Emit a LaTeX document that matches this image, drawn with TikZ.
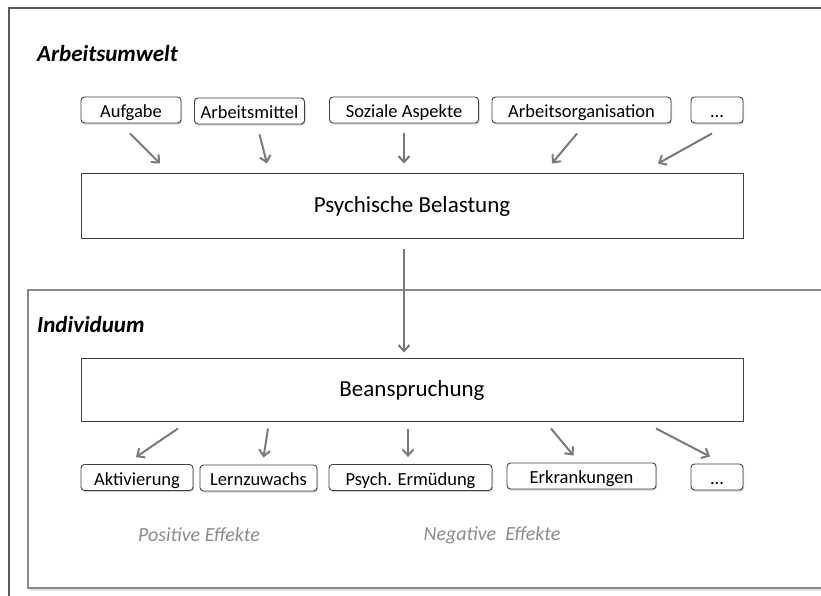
\documentclass[tikz,border=0pt]{standalone}
\usepackage{fontspec}
\setmainfont{Carlito}
\usetikzlibrary{arrows.meta,shadows}
\definecolor{arrowgray}{HTML}{7A7A7A}
\definecolor{framegray}{HTML}{8A8A8A}
\definecolor{textgray}{HTML}{8C8C8C}
\definecolor{boxline}{HTML}{404040}
\tikzset{
  smallbox/.style={draw=boxline, line width=0.9pt, rounded corners=3.5pt, fill=white,
    minimum height=26pt, inner sep=0pt, text height=16pt, text depth=1pt,
    font=\fontsize{18.5}{21}\selectfont,
    drop shadow={shadow xshift=1pt, shadow yshift=-1.5pt, opacity=0.35}},
  bigbox/.style={draw=boxline, line width=1pt, fill=white, minimum width=662pt, inner sep=0pt,
    text height=17pt, text depth=3pt, font=\fontsize{23}{27}\selectfont},
  arr/.style={draw=arrowgray, line width=2pt, -{Straight Barb[length=6pt,width=11pt]}},
  heading/.style={font=\fontsize{23}{27}\selectfont\bfseries\itshape, anchor=west, inner sep=0pt},
  effect/.style={font=\fontsize{20}{24}\selectfont\itshape, text=textgray, inner sep=0pt}
}
\begin{document}
\begin{tikzpicture}[x=1pt,y=-1pt]
\useasboundingbox (0,0) rectangle (821,595);
\fill[white] (0,0) rectangle (821,595);
\begin{scope}
  \clip (0,0) rectangle (821,595);
  \draw[black!65, line width=1.3pt] (9,620) -- (9,8) -- (840,8);
  \fill[black!12] (30,292) rectangle (840,591);
  \draw[framegray, line width=1.2pt, fill=white] (28,290) rectangle (840,588);
\end{scope}

\node[heading] (arbeitsumwelt) at (37,54) {Arbeitsumwelt};
\node[heading] (individuum) at (37,325) {Individuum};

% top small boxes
\node[smallbox, minimum width=100pt] (aufgabe) at (131,110) {Aufgabe};
\node[smallbox, minimum width=110pt] (mittel) at (249.5,111) {Arbeitsmittel};
\node[smallbox, minimum width=149pt] (sozial) at (404,110) {Soziale Aspekte};
\node[smallbox, minimum width=179pt] (orga) at (581.5,110) {Arbeitsorganisation};
\node[smallbox, minimum width=52pt] (dots1) at (717,110) {...};

% big boxes
\node[bigbox, minimum height=65pt] (belastung) at (412,205.5) {Psychische Belastung};
\node[bigbox, minimum height=63pt] (beanspruchung) at (412,389.5) {Beanspruchung};

% bottom small boxes
\node[smallbox, minimum width=112pt] (aktiv) at (137,477.5) {Aktivierung};
\node[smallbox, minimum width=117pt] (lern) at (258.5,478) {Lernzuwachs};
\node[smallbox, minimum width=163pt] (psych) at (410.5,477.5) {Psych. Ermüdung};
\node[smallbox, minimum width=149pt] (erkr) at (581.5,476) {Erkrankungen};
\node[smallbox, minimum width=52pt] (dots2) at (717,477) {...};

\node[effect] (pos) at (199,535) {Positive Effekte};
\node[effect] (neg) at (492,535) {Negative\ \ Effekte};

% arrows top
\draw[arr] ([xshift=-1pt,yshift=-10pt]aufgabe.south) -- ([xshift=-252pt,yshift=9pt]belastung.north);
\draw[arr] ([xshift=10pt,yshift=-10pt]mittel.south) -- ([xshift=-145pt,yshift=9pt]belastung.north);
\draw[arr] ([xshift=0pt,yshift=-10pt]sozial.south) -- ([xshift=-8pt,yshift=9pt]belastung.north);
\draw[arr] ([xshift=-4.5pt,yshift=-10pt]orga.south) -- ([xshift=140pt,yshift=9pt]belastung.north);
\draw[arr] ([xshift=-5pt,yshift=-10pt]dots1.south) -- ([xshift=246pt,yshift=9pt]belastung.north);

% middle arrow
\draw[arr] ([xshift=-8pt,yshift=-10pt]belastung.south) -- ([xshift=-8pt,yshift=5pt]beanspruchung.north);

% arrows bottom
\draw[arr] ([xshift=-234pt,yshift=-7pt]beanspruchung.south) -- ([xshift=-1pt,yshift=7pt]aktiv.north);
\draw[arr] ([xshift=-144pt,yshift=-7pt]beanspruchung.south) -- ([xshift=5pt,yshift=7pt]lern.north);
\draw[arr] ([xshift=-4pt,yshift=-7pt]beanspruchung.south) -- ([xshift=-2.5pt,yshift=7pt]psych.north);
\draw[arr] ([xshift=139pt,yshift=-7pt]beanspruchung.south) -- ([xshift=-8pt,yshift=7pt]erkr.north);
\draw[arr] ([xshift=244pt,yshift=-7pt]beanspruchung.south) -- ([xshift=-7pt,yshift=7pt]dots2.north);
\end{tikzpicture}
\end{document}
